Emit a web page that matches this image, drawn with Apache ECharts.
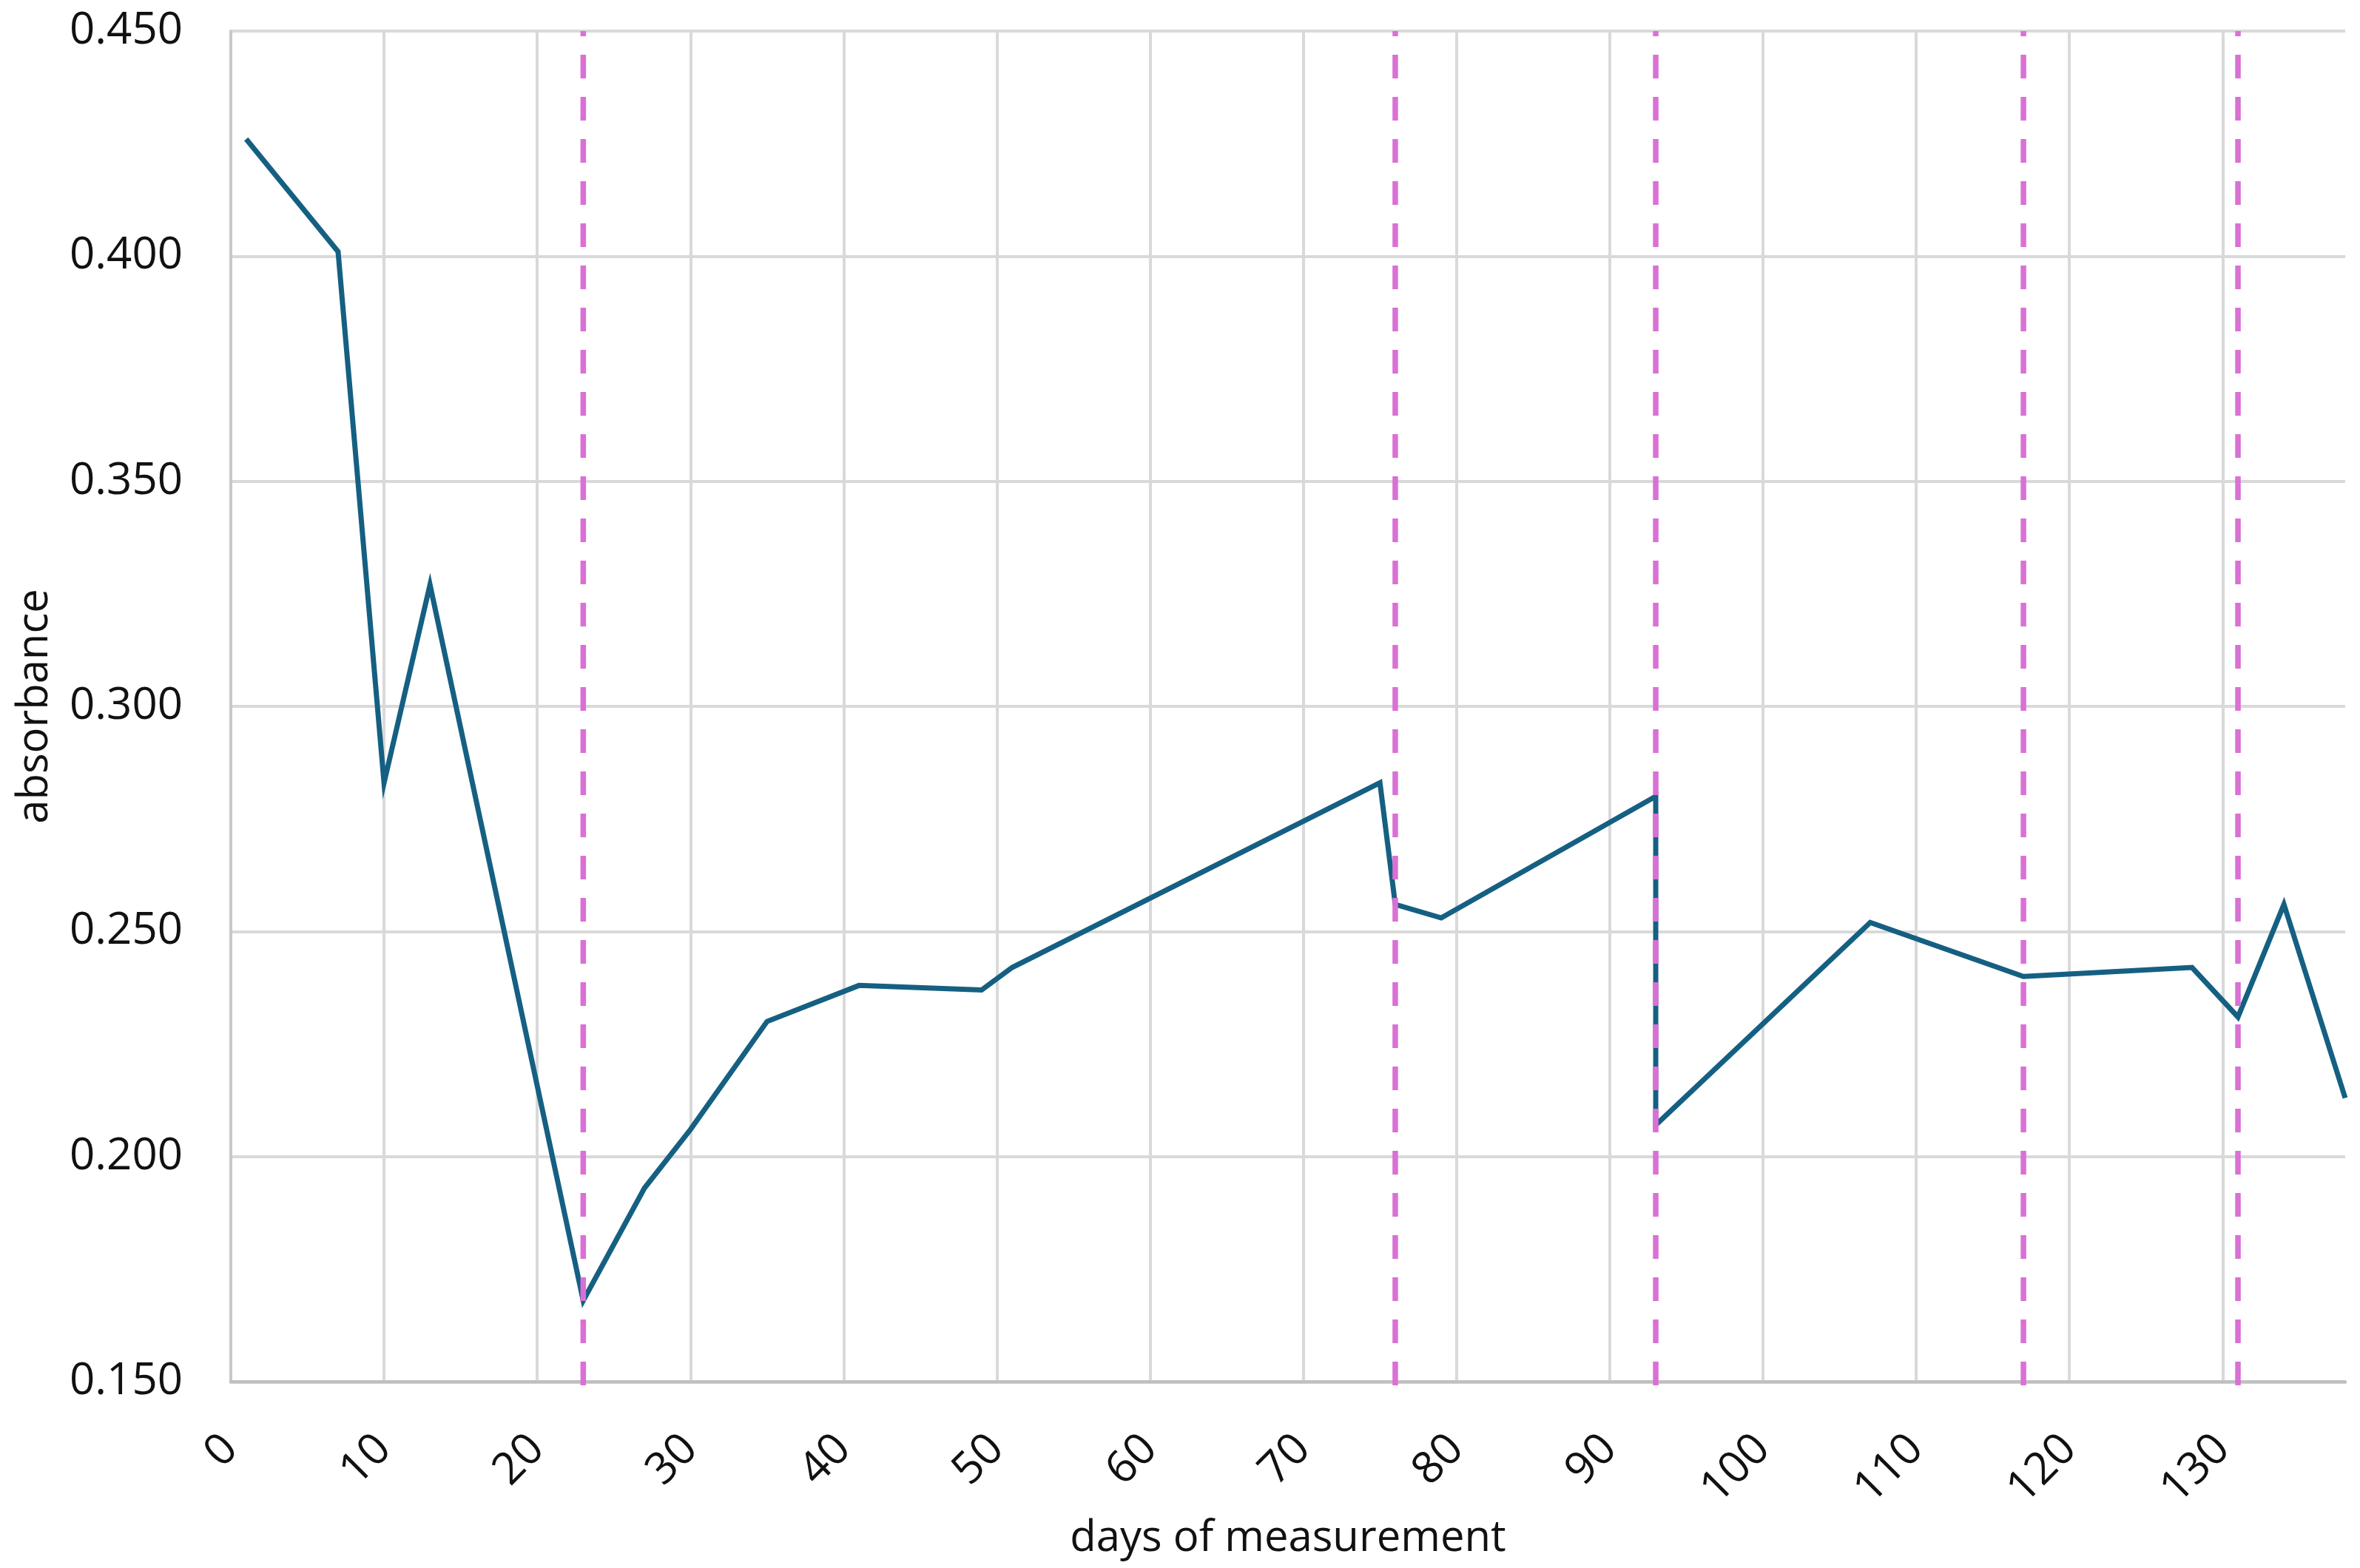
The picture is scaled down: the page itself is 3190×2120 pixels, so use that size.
<!DOCTYPE html>
<html>
<head>
<meta charset="utf-8">
<title>absorbance</title>
<script src="https://cdn.jsdelivr.net/npm/echarts@6/dist/echarts.min.js"></script>
<style>
  html, body { margin: 0; padding: 0; background: #fff; }
  #chart { width: 3190px; height: 2120px; }
</style>
</head>
<body>
<div id="chart"></div>
<script>
// measured absorbance by day
const days = [1, 7, 10, 13, 23, 27, 30, 35, 41, 49, 51, 75, 76, 79, 93, 93, 107, 117, 128, 131, 134, 138];
const absorbance = [0.426, 0.401, 0.283, 0.327, 0.168, 0.193, 0.206, 0.230, 0.238, 0.237, 0.242,
    0.283, 0.256, 0.253, 0.280, 0.207, 0.252, 0.240, 0.242, 0.231, 0.256, 0.213];

// days marked with vertical dashed lines
const eventDays = [23, 76, 93, 117, 131];
const eventTop = 0.450;
const eventBottom = 0.1464;

const font = '"Open Sans", "Noto Sans", sans-serif';

const chart = echarts.init(document.getElementById('chart'), null, {renderer: 'canvas'});

const lineData = days.map((d, i) => [d, absorbance[i]]);

const eventSeries = eventDays.map(d => ({
    type: 'line',
    data: [[d, eventTop], [d, eventBottom]],
    symbol: 'none',
    clip: false,
    silent: true,
    z: 5,
    lineStyle: {
        color: '#DA70D6',
        width: 7.5,
        type: [32, 25],
        dashOffset: 25,
        cap: 'butt'
    }
}));

const option = {
    animation: false,
    backgroundColor: '#fff',
    grid: {
        left: 312,
        right: 20,
        top: 42,
        bottom: 252
    },
    xAxis: {
        type: 'value',
        min: 0,
        max: 138,
        interval: 10,
        name: 'days of measurement',
        nameLocation: 'middle',
        nameGap: 176,
        nameTextStyle: {fontFamily: font, fontSize: 58, color: '#111'},
        axisLine: {show: true, lineStyle: {color: '#bfbfbf', width: 4.5}},
        axisTick: {show: false},
        axisLabel: {
            rotate: 45,
            margin: 82,
            fontFamily: font,
            fontSize: 60,
            color: '#111',
            showMaxLabel: false
        },
        splitLine: {show: true, showMaxLine: false, lineStyle: {color: '#d9d9d9', width: 4}}
    },
    yAxis: {
        type: 'value',
        min: 0.15,
        max: 0.45,
        interval: 0.05,
        name: 'absorbance',
        nameLocation: 'middle',
        nameGap: 236,
        nameTextStyle: {fontFamily: font, fontSize: 58, color: '#111'},
        axisLine: {show: true, lineStyle: {color: '#c8c8c8', width: 4}},
        axisTick: {show: false},
        axisLabel: {
            margin: 65,
            fontFamily: font,
            fontSize: 60,
            color: '#111',
            formatter: v => v.toFixed(3)
        },
        splitLine: {show: true, lineStyle: {color: '#d9d9d9', width: 4}}
    },
    series: [
        {
            type: 'line',
            data: lineData,
            symbol: 'none',
            z: 3,
            lineStyle: {color: '#156082', width: 7, join: 'miter'}
        },
        ...eventSeries
    ]
};

chart.setOption(option);
</script>
</body>
</html>
